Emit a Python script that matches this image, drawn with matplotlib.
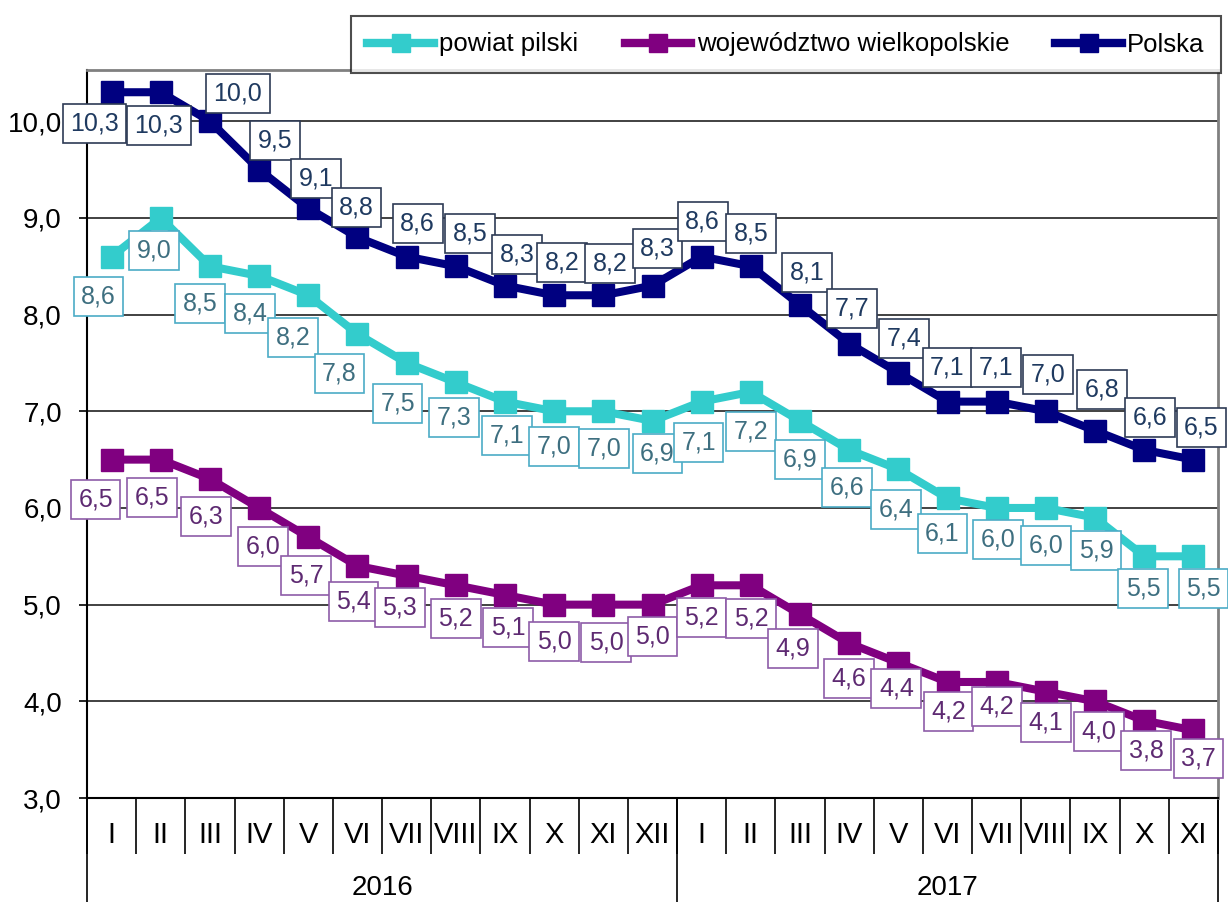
import matplotlib
matplotlib.use('Agg')
import matplotlib.pyplot as plt
import matplotlib.transforms as mtransforms

plt.rcParams['font.family'] = ['Liberation Sans', 'DejaVu Sans']

# data
months = ['I', 'II', 'III', 'IV', 'V', 'VI', 'VII', 'VIII', 'IX', 'X', 'XI', 'XII',
          'I', 'II', 'III', 'IV', 'V', 'VI', 'VII', 'VIII', 'IX', 'X', 'XI']
years = ['2016', '2017']
powiat = [8.6, 9.0, 8.5, 8.4, 8.2, 7.8, 7.5, 7.3, 7.1, 7.0, 7.0, 6.9,
          7.1, 7.2, 6.9, 6.6, 6.4, 6.1, 6.0, 6.0, 5.9, 5.5, 5.5]
wojewodztwo = [6.5, 6.5, 6.3, 6.0, 5.7, 5.4, 5.3, 5.2, 5.1, 5.0, 5.0, 5.0,
               5.2, 5.2, 4.9, 4.6, 4.4, 4.2, 4.2, 4.1, 4.0, 3.8, 3.7]
polska = [10.3, 10.3, 10.0, 9.5, 9.1, 8.8, 8.6, 8.5, 8.3, 8.2, 8.2, 8.3,
          8.6, 8.5, 8.1, 7.7, 7.4, 7.1, 7.1, 7.0, 6.8, 6.6, 6.5]

# label offsets in pixels (dx, dy down)
off_polska = [(-17, 31), (-2, 33), (28, -28), (16, -29), (8, -30), (-1, -30), (11, -33),
              (14, -33), (12, -31), (8, -33), (7, -32), (5, -37), (1, -35), (0, -33),
              (7, -32), (3, -35), (6, -34), (0, -34), (-1, -34), (2, -37), (7, -41),
              (6, -32), (8, -32)]
off_powiat = [(-13, 40), (-7, 33), (-10, 37), (-9, 38), (-15, 42), (-18, 40), (-9, 41),
              (-2, 35), (2, 34), (0, 35), (1, 37), (5, 33), (-3, 41), (0, 40), (0, 39),
              (-2, 38), (-2, 40), (-5, 35), (1, 32), (0, 38), (1, 33), (-1, 32), (10, 32)]
off_woj = [(-16, 40), (-9, 38), (-4, 38), (4, 39), (-2, 39), (-4, 36), (-7, 32), (0, 33),
           (3, 33), (0, 37), (3, 38), (0, 32), (0, 32), (0, 33), (-7, 34), (0, 35),
           (-2, 26), (1, 30), (0, 25), (0, 31), (4, 30), (2, 30), (5, 28)]

series = [
    ('powiat pilski', powiat, '#33CCCC', '#4BACC6', '#3E6F80', off_powiat),
    ('województwo wielkopolskie', wojewodztwo, '#800080', '#8E5CA8', '#5E2A72', off_woj),
    ('Polska', polska, '#000080', '#2E3B55', '#1F3A60', off_polska),
]

fig = plt.figure(figsize=(12.28, 9.02), dpi=100)
ax = fig.add_axes([87 / 1228, 1 - 798 / 902, (1218 - 87) / 1228, (798 - 70) / 902])

x = list(range(len(months)))
for name, vals, col, edge, tcol, offs in series:
    ax.plot(x, vals, color=col, lw=5.8, marker='s', markersize=15.5,
            label=name, zorder=3)

for name, vals, col, edge, tcol, offs in series:
    for i, v in enumerate(vals):
        dx, dy = offs[i]
        ax.annotate(f'{v:.1f}'.replace('.', ','), (i, v), xytext=(dx, -dy),
                    textcoords='offset pixels', ha='center', va='center',
                    fontsize=18, color=tcol, zorder=5,
                    bbox=dict(boxstyle='square,pad=0.3', fc='white', ec=edge, lw=1.2))

ax.set_xlim(-0.5, len(months) - 0.5)
ax.set_ylim(3, 10.53)
ax.set_yticks(range(3, 11))
ax.set_yticklabels([f'{t},0' for t in range(3, 11)], fontsize=20)
ax.yaxis.grid(True, color='#333333', lw=1.3)
ax.set_axisbelow(True)
ax.tick_params(axis='y', length=6, width=1.2, pad=12)

ax.set_xticks([i - 0.5 for i in range(len(months) + 1)])
ax.set_xticklabels([])
ax.tick_params(axis='x', length=40, width=1.2, color='black')

trans = mtransforms.blended_transform_factory(ax.transData, ax.transAxes)
for i, m in enumerate(months):
    ax.text(i, -0.051, m, transform=trans, ha='center', va='center', fontsize=21)
for xs in [-0.5, 11.5, len(months) - 0.5]:
    ax.plot([xs, xs], [0, -0.16], transform=trans, color='black', lw=1.2, clip_on=False)
ax.text(5.5, -0.124, years[0], transform=trans, ha='center', va='center', fontsize=20)
ax.text((11.5 + len(months) - 0.5) / 2, -0.124, years[1], transform=trans,
        ha='center', va='center', fontsize=20)

for s in ['left', 'bottom']:
    ax.spines[s].set_color('black')
    ax.spines[s].set_linewidth(1.5)
for s in ['top', 'right']:
    ax.spines[s].set_color('#808080')
    ax.spines[s].set_linewidth(2)

leg = fig.legend(loc='center', bbox_to_anchor=(350 / 1228, 1 - 75 / 902, 872 / 1228, 61 / 902),
                 ncol=3, fontsize=18.5, frameon=True, fancybox=False, handlelength=2.6,
                 handletextpad=0.2, columnspacing=1.8, borderpad=0.65)
leg.get_frame().set_edgecolor('#222222')
leg.get_frame().set_linewidth(1.5)
for h in leg.legend_handles:
    h.set_markersize(13)
    h.set_linewidth(6)

fig.savefig('out.png', dpi=100)
